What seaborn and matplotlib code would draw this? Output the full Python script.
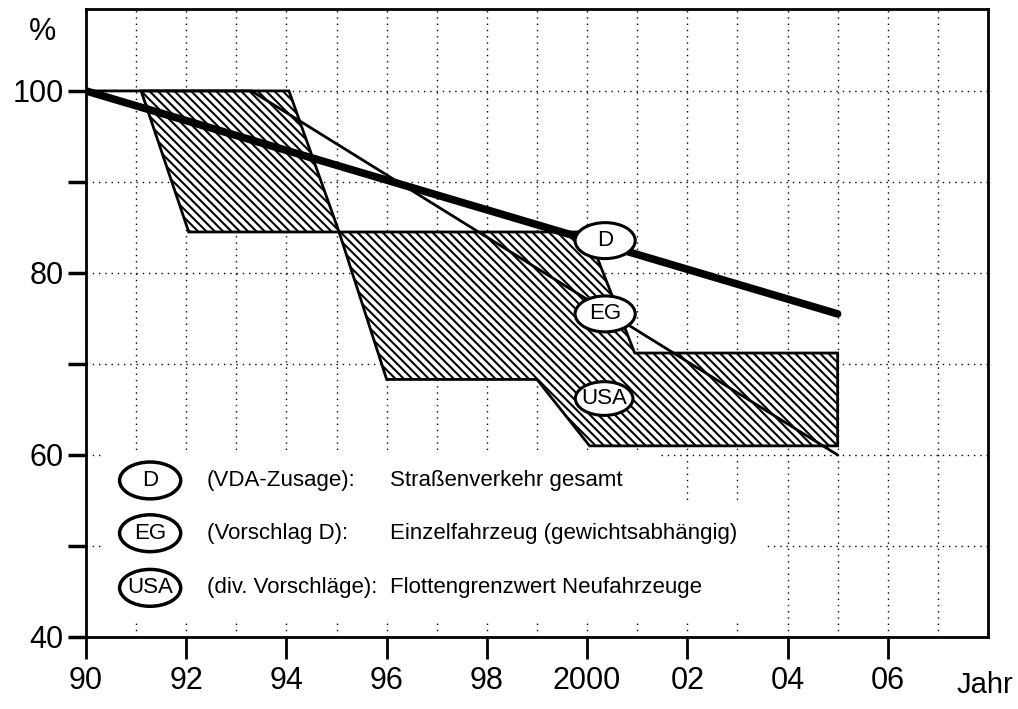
import matplotlib
matplotlib.use("Agg")
import matplotlib.pyplot as plt
import matplotlib.patches as mpatches
from matplotlib.ticker import MultipleLocator
import seaborn as sns

# D: VDA-Zusage, Strassenverkehr gesamt (thick line)
d_years = [1990, 2005]
d_values = [100, 75.5]

# EG: Vorschlag D, Einzelfahrzeug (thin line)
eg_years = [1990, 1993.3, 2005]
eg_values = [100, 100, 60]

# USA: hatched band, upper and lower edge
usa_upper_years = [1991.1, 1994.05, 1995.05, 2000.0, 2000.95, 2005]
usa_upper_values = [100, 100, 84.5, 84.5, 71.2, 71.2]
usa_lower_years = [1991.1, 1992.05, 1995.05, 1996.0, 1999.0, 2000.05, 2005]
usa_lower_values = [100, 84.5, 84.5, 68.3, 68.3, 61.0, 61.0]

x_ticks = [1990, 1992, 1994, 1996, 1998, 2000, 2002, 2004, 2006]
x_tick_labels = ["90", "92", "94", "96", "98", "2000", "02", "04", "06"]
y_ticks = [40, 50, 60, 70, 80, 90, 100]
y_tick_labels = ["40", "", "60", "", "80", "", "100"]

legend_keys = ["D", "EG", "USA"]
legend_sources = ["(VDA-Zusage):", "(Vorschlag D):", "(div. Vorschläge):"]
legend_texts = ["Straßenverkehr gesamt",
                "Einzelfahrzeug (gewichtsabhängig)",
                "Flottengrenzwert Neufahrzeuge"]

sns.set_style("ticks")
plt.rcParams["font.family"] = ["Liberation Sans", "DejaVu Sans"]
plt.rcParams["hatch.linewidth"] = 1.5
plt.rcParams["text.color"] = "black"
plt.rcParams["xtick.labelcolor"] = "black"
plt.rcParams["ytick.labelcolor"] = "black"

fig, ax = plt.subplots(figsize=(10.18, 7.09), dpi=100)
fig.subplots_adjust(left=86 / 1018, right=988 / 1018, bottom=1 - 637 / 709, top=1 - 9 / 709)

ax.set_xlim(1990, 2008)
ax.set_ylim(40, 109)

# dotted grid, one line per year and every 10 %
ax.set_axisbelow(True)
ax.xaxis.set_minor_locator(MultipleLocator(1))
ax.grid(which="both", axis="x", color="black", linestyle=(0, (1, 3.5)), linewidth=1.0)
ax.grid(which="major", axis="y", color="black", linestyle=(0, (1, 3.5)), linewidth=1.0)

# white patches behind the legend (they hide the grid there)
ax.add_patch(mpatches.Rectangle((1990.38, 41.8), 11.1, 18.5, facecolor="white",
                                edgecolor="none", zorder=1))
ax.add_patch(mpatches.Rectangle((2001.4, 41.8), 2.1, 13.2, facecolor="white",
                                edgecolor="none", zorder=1))

# USA band
band_x = usa_upper_years + usa_lower_years[::-1]
band_y = usa_upper_values + usa_lower_values[::-1]
ax.fill(band_x, band_y, facecolor="white", edgecolor="black", hatch="\\\\\\\\",
        linewidth=2.0, zorder=2)

sns.lineplot(x=eg_years, y=eg_values, color="black", linewidth=2.0, ax=ax, zorder=3)
sns.lineplot(x=d_years, y=d_values, color="black", linewidth=5.5, ax=ax, zorder=4,
             solid_capstyle="round")

# ellipse tags on the curves
tag_pos = {"D": (2000.36, 83.55), "EG": (2000.36, 75.5), "USA": (2000.34, 66.2)}
for key, (tx, ty) in tag_pos.items():
    w, h = (1.15, 3.7) if key == "USA" else (1.2, 3.95)
    ax.add_patch(mpatches.Ellipse((tx, ty), w, h, facecolor="white", edgecolor="black",
                                  linewidth=2.2, zorder=5))
    ax.text(tx, ty, key, ha="center", va="center", fontsize=16, zorder=6)

# legend block
row_y = [57.2, 51.4, 45.4]
for key, src, txt, ry in zip(legend_keys, legend_sources, legend_texts, row_y):
    ax.add_patch(mpatches.Ellipse((1991.28, ry), 1.22, 4.05, facecolor="white",
                                  edgecolor="black", linewidth=2.5, zorder=5))
    ax.text(1991.28, ry, key, ha="center", va="center", fontsize=16, zorder=6)
    ax.text(1992.41, ry, src, ha="left", va="center", fontsize=16, zorder=6)
    ax.text(1996.07, ry, txt, ha="left", va="center", fontsize=16, zorder=6)

ax.set_xticks(x_ticks)
ax.set_xticklabels(x_tick_labels)
ax.set_yticks(y_ticks)
ax.set_yticklabels(y_tick_labels)
ax.tick_params(axis="x", which="major", direction="out", length=16, width=2,
               labelsize=22, pad=5, color="black")
ax.tick_params(axis="x", which="minor", length=0)
ax.tick_params(axis="y", direction="out", length=13, width=2.5, labelsize=22, pad=3,
               color="black")
ax.set_xlabel("")
ax.set_ylabel("")

for side in ["left", "bottom", "top", "right"]:
    ax.spines[side].set_visible(True)
    ax.spines[side].set_color("black")
    ax.spines[side].set_linewidth(2)

fig.text(42 / 1018, 1 - 32 / 709, "%", ha="center", va="center", fontsize=22)
fig.text(985 / 1018, 1 - 685 / 709, "Jahr", ha="center", va="center", fontsize=21)

fig.savefig("out.png", dpi=100)
